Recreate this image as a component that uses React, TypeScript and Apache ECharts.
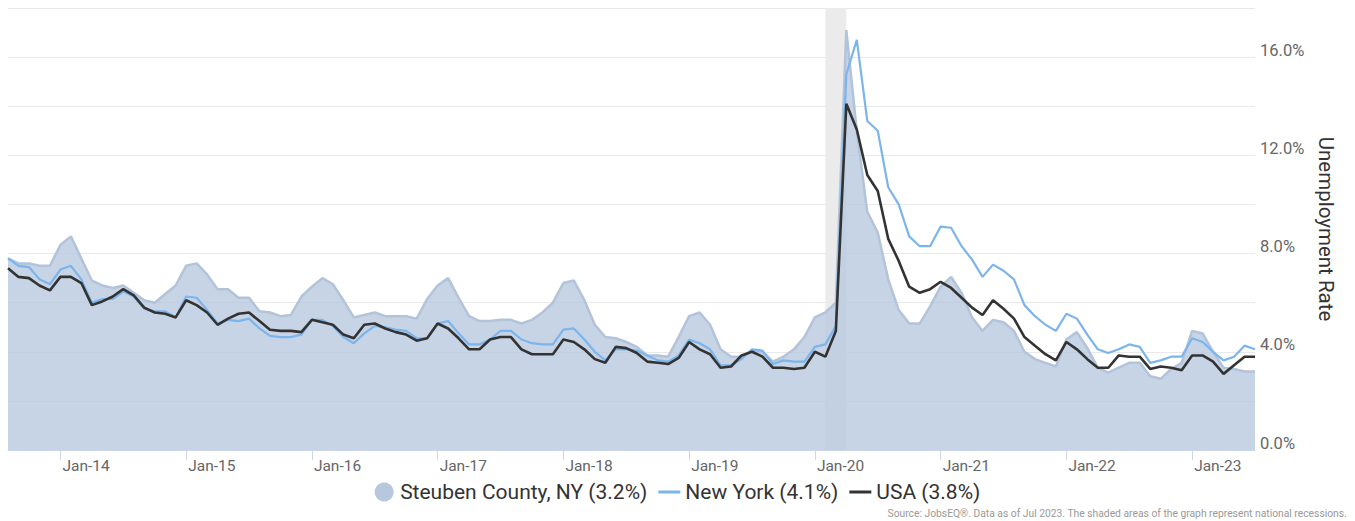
import React, { useEffect, useRef } from "react";
import * as echarts from "echarts";

const MONTHS = ["Jan", "Feb", "Mar", "Apr", "May", "Jun", "Jul", "Aug", "Sep", "Oct", "Nov", "Dec"];
// Monthly categories, Aug 2013 – Jul 2023
const categories: string[] = [];
for (let k = 0; k < 120; k++) {
  const m = (7 + k) % 12;
  const y = 13 + Math.floor((7 + k) / 12);
  categories.push(`${MONTHS[m]}-${y}`);
}

const steuben = [
  7.8, 7.6, 7.6, 7.5, 7.5, 8.35, 8.7, 7.8, 6.9, 6.7,
  6.6, 6.7, 6.4, 6.1, 6.0, 6.35, 6.7, 7.5, 7.6, 7.15,
  6.55, 6.55, 6.2, 6.2, 5.65, 5.6, 5.45, 5.5, 6.25, 6.65,
  7.0, 6.75, 6.1, 5.4, 5.5, 5.6, 5.45, 5.45, 5.45, 5.35,
  6.15, 6.7, 7.0, 6.2, 5.45, 5.25, 5.25, 5.3, 5.3, 5.15,
  5.3, 5.6, 6.0, 6.8, 6.9, 6.1, 5.1, 4.6, 4.55, 4.4,
  4.2, 3.85, 3.85, 3.8, 4.6, 5.45, 5.6, 5.1, 4.1, 3.8,
  3.8, 4.05, 4.0, 3.6, 3.8, 4.1, 4.6, 5.4, 5.6, 6.0,
  17.1, 13.0, 9.7, 8.85, 6.95, 5.7, 5.15, 5.15, 5.85, 6.65,
  7.05, 6.4, 5.4, 4.85, 5.3, 5.2, 4.85, 4.0, 3.7, 3.55,
  3.4, 4.5, 4.8, 4.15, 3.35, 3.15, 3.35, 3.55, 3.55, 3.0,
  2.9, 3.3, 3.55, 4.85, 4.75, 4.0, 3.35, 3.3, 3.2, 3.2,
];

const newYork = [
  7.8, 7.5, 7.45, 6.95, 6.75, 7.35, 7.5, 6.95, 6.0, 6.15,
  6.15, 6.45, 6.25, 5.75, 5.65, 5.65, 5.4, 6.25, 6.2, 5.7,
  5.15, 5.3, 5.25, 5.35, 4.95, 4.65, 4.6, 4.6, 4.7, 5.3,
  5.3, 5.05, 4.6, 4.35, 4.75, 5.05, 5.0, 4.9, 4.85, 4.55,
  4.55, 5.15, 5.25, 4.75, 4.3, 4.3, 4.5, 4.85, 4.85, 4.5,
  4.35, 4.3, 4.3, 4.9, 4.95, 4.5, 4.0, 3.65, 4.1, 4.1,
  4.05, 3.85, 3.65, 3.6, 3.85, 4.5, 4.35, 4.1, 3.45, 3.45,
  3.7, 4.1, 4.05, 3.5, 3.65, 3.6, 3.6, 4.2, 4.3, 5.05,
  15.3, 16.7, 13.4, 13.0, 10.7, 10.0, 8.7, 8.3, 8.3, 9.1,
  9.05, 8.3, 7.75, 7.05, 7.55, 7.3, 6.95, 5.9, 5.45, 5.1,
  4.85, 5.55, 5.35, 4.7, 4.1, 3.95, 4.1, 4.3, 4.2, 3.55,
  3.65, 3.8, 3.8, 4.55, 4.4, 4.0, 3.65, 3.8, 4.25, 4.1,
];

const usa = [
  7.4, 7.05, 7.0, 6.7, 6.5, 7.05, 7.05, 6.8, 5.9, 6.05,
  6.25, 6.55, 6.3, 5.8, 5.6, 5.55, 5.4, 6.1, 5.9, 5.6,
  5.1, 5.35, 5.55, 5.6, 5.25, 4.9, 4.85, 4.85, 4.8, 5.3,
  5.2, 5.1, 4.7, 4.55, 5.1, 5.15, 4.95, 4.8, 4.7, 4.45,
  4.55, 5.15, 4.95, 4.55, 4.1, 4.1, 4.5, 4.6, 4.6, 4.1,
  3.9, 3.9, 3.9, 4.5, 4.4, 4.1, 3.7, 3.55, 4.2, 4.15,
  3.95, 3.6, 3.55, 3.5, 3.75, 4.4, 4.1, 3.9, 3.35, 3.4,
  3.85, 4.0, 3.8, 3.35, 3.35, 3.3, 3.35, 4.0, 3.8, 4.85,
  14.1, 13.05, 11.2, 10.55, 8.6, 7.7, 6.65, 6.4, 6.55, 6.85,
  6.6, 6.2, 5.8, 5.5, 6.1, 5.75, 5.35, 4.6, 4.25, 3.9,
  3.65, 4.4, 4.1, 3.7, 3.35, 3.35, 3.85, 3.8, 3.8, 3.3,
  3.4, 3.35, 3.25, 3.85, 3.85, 3.6, 3.1, 3.45, 3.8, 3.8,
];

const recession = ["Feb-20", "Apr-20"];
const seriesNames = ["Steuben County, NY (3.2%)", "New York (4.1%)", "USA (3.8%)"];
const yTicks = [0, 4, 8, 12, 16];

const FONT = "Roboto, 'Noto Sans', sans-serif";
const LINE_ICON = "path://M0,0h22v3h-22z";

export default function App() {
  const ref = useRef<HTMLDivElement>(null);
  useEffect(() => {
    if (!ref.current) return;
    const chart = echarts.init(ref.current, undefined, { renderer: "svg" });
    const isJan = (_i: number, v: string) => v.startsWith("Jan");
    chart.setOption({
      animation: false,
      textStyle: { fontFamily: FONT },
      grid: { left: 8, right: 100, top: 8, bottom: 71, containLabel: false },
      legend: {
        top: 480,
        left: "center",
        itemWidth: 22,
        itemHeight: 19,
        itemGap: 11,
        padding: 0,
        selectedMode: false,
        textStyle: { fontSize: 21, lineHeight: 24, color: "#333", fontFamily: FONT },
        data: [
          { name: seriesNames[0], icon: "circle", itemStyle: { color: "#b6c7de" } },
          { name: seriesNames[1], icon: LINE_ICON, itemStyle: { color: "#7cb5ec" } },
          { name: seriesNames[2], icon: LINE_ICON, itemStyle: { color: "#333333" } },
        ],
      },
      xAxis: {
        type: "category",
        data: categories,
        boundaryGap: false,
        axisLine: { show: true, lineStyle: { color: "#ccd6eb" } },
        axisTick: { show: true, interval: isJan, length: 10, lineStyle: { color: "#ccd6eb" } },
        axisLabel: {
          interval: isJan,
          align: "left",
          padding: [0, 0, 0, 2],
          margin: 8,
          fontSize: 15.5,
          color: "#666",
          fontFamily: FONT,
        },
        splitLine: { show: false },
      },
      yAxis: {
        type: "value",
        position: "right",
        min: 0,
        max: 18,
        interval: 2,
        name: "Unemployment Rate",
        nameLocation: "middle",
        nameRotate: -90,
        nameGap: 57,
        nameTextStyle: { fontSize: 20.5, color: "#333", fontFamily: FONT },
        axisLine: { show: false },
        axisTick: { show: false },
        splitLine: { lineStyle: { color: "#e9e9e9", width: 1 } },
        axisLabel: {
          margin: 5,
          fontSize: 16.5,
          lineHeight: 14,
          color: "#666",
          verticalAlign: "bottom",
          fontFamily: FONT,
          formatter: (v: number) => (yTicks.includes(v) ? v.toFixed(1) + "%" : ""),
        },
      },
      series: [
        {
          name: "recession",
          type: "line",
          data: categories.map(() => null),
          showSymbol: false,
          silent: true,
          z: 1,
          lineStyle: { opacity: 0 },
          markArea: {
            silent: true,
            itemStyle: { color: "#ebebeb" },
            data: [[{ xAxis: recession[0] }, { xAxis: recession[1] }]],
          },
        },
        {
          name: seriesNames[0],
          type: "line",
          data: steuben,
          showSymbol: false,
          symbol: "none",
          z: 2,
          color: "#b6c7de",
          lineStyle: { color: "#b2c3da", width: 2.5 },
          areaStyle: { color: "rgba(183,200,222,0.78)", opacity: 1 },
        },
        {
          name: seriesNames[1],
          type: "line",
          data: newYork,
          showSymbol: false,
          symbol: "none",
          z: 3,
          color: "#7cb5ec",
          lineStyle: { color: "#7cb5ec", width: 2.2 },
        },
        {
          name: seriesNames[2],
          type: "line",
          data: usa,
          showSymbol: false,
          symbol: "none",
          z: 4,
          color: "#333333",
          lineStyle: { color: "#333333", width: 2.6 },
        },
      ],
      graphic: [
        {
          type: "text",
          right: 8,
          top: 508,
          style: {
            text: "Source: JobsEQ®. Data as of Jul 2023. The shaded areas of the graph represent national recessions.",
            fontSize: 10.3,
            fill: "#999",
            fontFamily: FONT,
          },
        },
      ],
    });
    return () => chart.dispose();
  }, []);
  return <div ref={ref} style={{ width: 1355, height: 521, position: "absolute", left: 0, top: 0 }} />;
}
